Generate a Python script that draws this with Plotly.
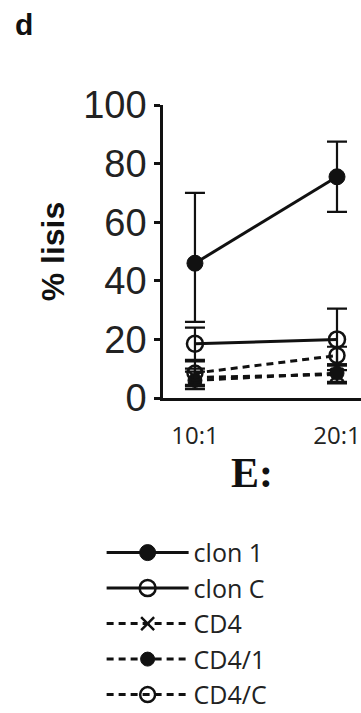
import plotly.graph_objects as go

# Effector:target ratios
ratios = ["10:1", "20:1"]
x_pos = [0, 1]

# Mean % lysis per group, with error bar sizes (upper / lower)
clon1 = [46, 75.5]
clon1_err_up = [24, 12]
clon1_err_dn = [20, 12]

clonC = [18.5, 20]
clonC_err = [5.5, 10.5]

cd4 = [7, 8]
cd4_err = [3, 3]

cd4_1 = [6, 8.5]
cd4_1_err = [3, 3]

cd4_C = [8.5, 14.5]
cd4_C_err = [4, 3]

series_names = ["clon 1", "clon C", "CD4", "CD4/1", "CD4/C"]
y_ticks = [0, 20, 40, 60, 80, 100]

BLACK = "#111111"
DASH = "7px,5px"

fig = go.Figure()


def add_series(name, y, err_up, err_dn, symbol, dash, msize, mline):
    fig.add_trace(go.Scatter(
        x=x_pos, y=y, name=name, mode="lines+markers",
        legendgroup=name,
        line=dict(color=BLACK, width=3, dash=dash),
        marker=dict(symbol=symbol, size=msize, color=BLACK,
                    line=dict(color=BLACK, width=mline)),
        error_y=dict(type="data", array=err_up, arrayminus=err_dn,
                     symmetric=False, color=BLACK, thickness=2.2, width=10),
        cliponaxis=False,
    ))


add_series(series_names[0], clon1, clon1_err_up, clon1_err_dn, "circle", "solid", 16, 1)
add_series(series_names[1], clonC, clonC_err, clonC_err, "circle-open", "solid", 16, 2.5)
add_series(series_names[2], cd4, cd4_err, cd4_err, "x-thin-open", DASH, 13, 2.5)
add_series(series_names[3], cd4_1, cd4_1_err, cd4_1_err, "circle", DASH, 14, 1)
add_series(series_names[4], cd4_C, cd4_C_err, cd4_C_err, "circle-open", DASH, 15, 2.5)

fig.update_layout(
    width=361, height=713,
    margin=dict(l=163, r=0, t=105, b=315, pad=0, autoexpand=False),
    paper_bgcolor="white", plot_bgcolor="white",
    showlegend=True,
    legend=dict(
        x=-0.31, y=-0.45, xanchor="left", yanchor="top",
        font=dict(family="Open Sans", size=25, color="#222222"),
        itemwidth=82, tracegroupgap=0, traceorder="grouped",
        bgcolor="rgba(0,0,0,0)",
    ),
    xaxis=dict(
        range=[-0.225, 1.169],
        tickvals=x_pos, ticktext=ratios,
        showgrid=False, zeroline=False,
        showline=True, linecolor=BLACK, linewidth=2.5,
        ticks="", ticklabelstandoff=14,
        tickfont=dict(family="Open Sans", size=24, color="#222222"),
    ),
    yaxis=dict(
        range=[0, 100],
        tickvals=y_ticks,
        showgrid=False, zeroline=False,
        showline=True, linecolor=BLACK, linewidth=2.5,
        ticks="outside", ticklen=6, tickwidth=2.5, tickcolor=BLACK,
        tickfont=dict(family="Liberation Sans", size=38, color="#222222"),
        title=dict(text="<b>% lisis</b>", standoff=10,
                   font=dict(family="Liberation Sans", size=32, color="#111111")),
    ),
    annotations=[
        dict(text="<b>d</b>", xref="paper", yref="paper", x=-0.70, y=1.275,
             xanchor="center", yanchor="middle", showarrow=False,
             font=dict(family="Liberation Sans", size=30, color="#111111")),
        dict(text="<b>E:</b>", xref="paper", yref="paper", x=0.45, y=-0.255,
             xanchor="center", yanchor="middle", showarrow=False,
             font=dict(family="Liberation Serif", size=42, color="#111111")),
    ],
)

fig.write_html("out.html")
